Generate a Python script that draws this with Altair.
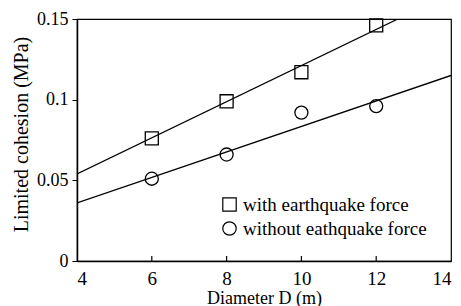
import altair as alt
import pandas as pd

diam = [6, 8, 10, 12]
with_eq = [0.076, 0.099, 0.117, 0.146]
without_eq = [0.051, 0.066, 0.092, 0.096]
series = ["with earthquake force", "without eathquake force"]

# fitted lines (endpoints)
fit_x_with = [4, 12.58]
fit_y_with = [0.054, 0.15]
fit_x_without = [4, 14]
fit_y_without = [0.036, 0.115]

x_ticks = [4, 6, 8, 10, 12, 14]
y_ticks = [0, 0.05, 0.1, 0.15]
inner_ticks = [6, 8, 10, 12]

pts = pd.DataFrame({
    "D": diam * 2,
    "c": with_eq + without_eq,
    "s": [series[0]] * 4 + [series[1]] * 4,
})
lines = pd.DataFrame({
    "D": fit_x_with + fit_x_without,
    "c": fit_y_with + fit_y_without,
    "s": [series[0]] * 2 + [series[1]] * 2,
})
ticks_df = pd.DataFrame({"D": inner_ticks})

FONT = "Liberation Serif"
xs = alt.Scale(domain=[4, 14], nice=False)
ys = alt.Scale(domain=[0, 0.15], nice=False)

line_layer = alt.Chart(lines).mark_line(color="black", strokeWidth=1.3, clip=True).encode(
    x=alt.X("D:Q", scale=xs, title="Diameter D (m)",
            axis=alt.Axis(values=x_ticks, ticks=False, labelPadding=8, titlePadding=1,
                          labelFontSize=19, titleFontSize=18)),
    y=alt.Y("c:Q", scale=ys, title="Limited cohesion (MPa)",
            axis=alt.Axis(values=y_ticks, tickSize=5, labelPadding=4, titlePadding=5,
                          labelFontSize=18, titleFontSize=20, titleY=115,
                          labelExpr="datum.value == 0 ? '0' : format(datum.value, '.2~f')")),
    detail="s:N",
)

pt_layer = alt.Chart(pts).mark_point(filled=False, color="black", strokeWidth=1.3, size=170, opacity=1).encode(
    x=alt.X("D:Q", scale=xs),
    y=alt.Y("c:Q", scale=ys),
    shape=alt.Shape("s:N", scale=alt.Scale(domain=series, range=["square", "circle"]),
                    legend=alt.Legend(title=None, orient="none", legendX=143, legendY=176,
                                      symbolSize=180, symbolStrokeColor="black",
                                      symbolStrokeWidth=1.2, symbolFillColor="transparent",
                                      labelFont=FONT, labelFontSize=19, labelColor="black",
                                      labelLimit=300, rowPadding=4, labelOffset=4)),
)

tick_layer = alt.Chart(ticks_df).mark_rule(color="black", strokeWidth=1.2).encode(
    x=alt.X("D:Q", scale=xs),
    y=alt.value(242),
    y2=alt.value(237),
)

chart = alt.layer(line_layer, pt_layer, tick_layer).properties(
    width=374, height=242,
    background="white",
    autosize=alt.AutoSizeParams(type="none"),
    padding={"left": 69, "top": 11, "right": 2, "bottom": 50},
).configure_view(stroke="black", strokeWidth=1.2).configure_axis(
    grid=False, domainColor="black", tickColor="black", labelColor="black", titleColor="black",
    labelFont=FONT, titleFont=FONT, titleFontWeight="normal",
    domainWidth=1.5,
)

chart.save("out.html", embed_options={"renderer": "svg", "actions": False})
